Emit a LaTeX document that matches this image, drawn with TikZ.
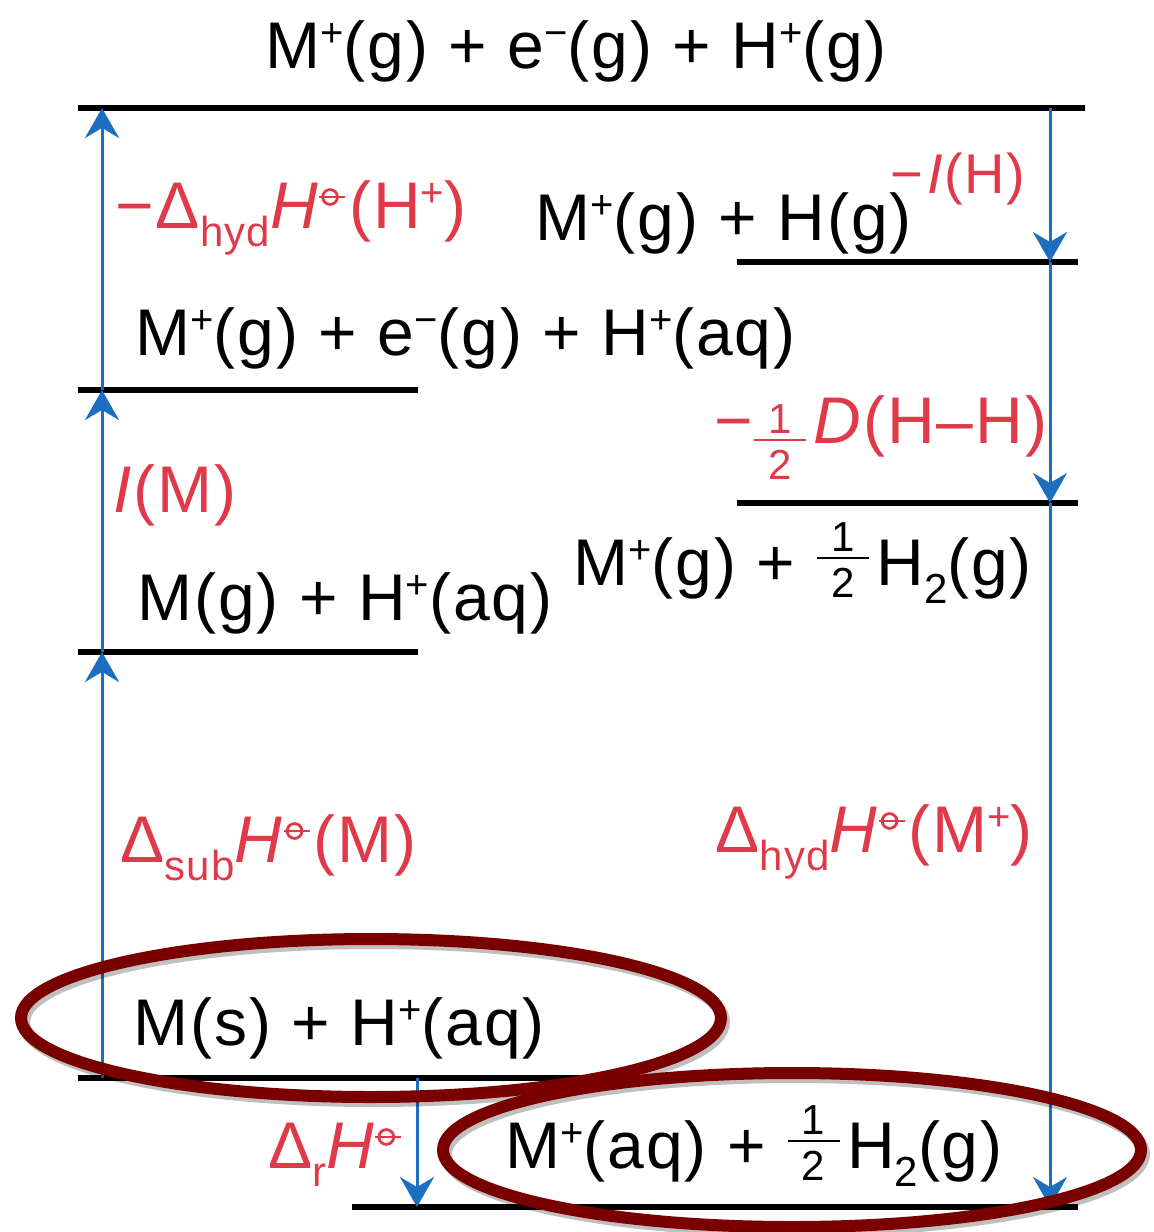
\documentclass[tikz,border=0pt]{standalone}
\usepackage{fontspec}
\setmainfont{Liberation Sans}[LetterSpace=3]
\usetikzlibrary{positioning,arrows.meta,calc}
\definecolor{lblred}{HTML}{E0394A}
\definecolor{arrblue}{HTML}{1C6EBF}
\definecolor{ovalred}{HTML}{7A0000}
\newcommand{\stdst}{\hspace{-1pt}\tikz[baseline=0pt,x=1pt,y=1pt]{\draw[line width=1.4pt] (5.5,15.5) circle (3.7); \draw[line width=1.1pt] (0,15.5) -- (13,15.5);}\hspace{1.5pt}}
\newcommand{\sbs}[1]{\raisebox{-0.28em}{\fontsize{21}{21}\selectfont #1}}
\newcommand{\sps}[1]{\raisebox{0.33em}{\fontsize{20}{20}\selectfont #1}}
\newcommand{\half}[1][13.5]{\tikz[baseline=0pt,x=1pt,y=1pt]{\draw[line width=1.4pt] (0,#1) -- (26,#1); \node[anchor=base,inner sep=0pt,font=\fontsize{21}{22}\selectfont] at (13,#1+3.5) {1}; \node[anchor=base,inner sep=0pt,font=\fontsize{21}{22}\selectfont] at (13,#1-19.5) {2};}\hspace{3pt}}

\begin{document}
\begin{tikzpicture}[x=0.5pt,y=-0.5pt,
    every node/.style={inner sep=0pt,anchor=base west,font=\fontsize{33}{40}\selectfont},
    lvl/.style={line width=3pt},
    enarrow/.style={arrblue,line width=1.5pt,-{Stealth[length=15pt,width=17pt,inset=5pt]}},
    lbl/.style={text=lblred},
    hilite/.style={ovalred,line width=6pt}]
  \useasboundingbox (0,0) rectangle (1153,1232);
  \coordinate (a0) at (102,1078);
  \coordinate (a1) at (102,652);
  \coordinate (a2) at (102,390);
  \coordinate (a3) at (102,108);
  \coordinate (b0) at (1050,108);
  \coordinate (b1) at (1050,262);
  \coordinate (b2) at (1050,503);
  \coordinate (b3) at (1050,1207);
  \coordinate (c0) at (417,1078);
  \coordinate (c1) at (417,1207);
  \draw[lvl] (78,108) -- (1085,108);
  \draw[lvl] (737,262) -- (1078,262);
  \draw[lvl] (78,390) -- (418,390);
  \draw[lvl] (737,503) -- (1078,503);
  \draw[lvl] (78,652) -- (418,652);
  \draw[lvl] (78,1078) -- (600,1078);
  \draw[lvl] (352,1207) -- (1078,1207);
  \node (eg)  at (265,68)   {M\sps{+}(g) + e\sps{−}(g) + H\sps{+}(g)};
  \node (hg)  at (535,240)  {M\sps{+}(g) + H(g)};
  \node (eaq) at (135,355)  {M\sps{+}(g) + e\sps{−}(g) + H\sps{+}(aq)};
  \node (mg)  at (137,620)  {M(g) + H\sps{+}(aq)};
  \node (h2)  at (573,585)  {M\sps{+}(g) + \half H\sbs{2}(g)};
  \node (ms)  at (133,1045) {M(s) + H\sps{+}(aq)};
  \node (maq) at (505,1168) {M\sps{+}(aq) + \half H\sbs{2}(g)};
  \node[lbl] (hydh) at (115,228)  {−Δ\sbs{hyd}\textit{H}\stdst(H\sps{+})};
  \node[lbl,font=\fontsize{28}{32}\selectfont] (ih) at (890,193) {−\hspace{2pt}\textit{I}(H)};
  \node[lbl] (im)   at (113,512)  {\textit{I}(M)};
  \node[lbl] (dhh)  at (714,443)  {−\half[1.5]\textit{D}(H–H)};
  \node[lbl] (sub)  at (120,862)  {Δ\sbs{sub}\textit{H}\stdst(M)};
  \node[lbl] (hydm) at (715,852)  {Δ\sbs{hyd}\textit{H}\stdst(M\sps{+})};
  \node[lbl] (rh)   at (268,1168) {Δ\sbs{r}\textit{H}\stdst};
  \draw[enarrow] (a0) -- (a1);
  \draw[enarrow] (a1) -- (a2);
  \draw[enarrow] (a2) -- (a3);
  \draw[enarrow] (b0) -- (b1);
  \draw[enarrow] (b1) -- (b2);
  \draw[enarrow] (b2) -- (b3);
  \draw[enarrow] (c0) -- (c1);
  \draw[hilite,black,opacity=0.25] (374,1022) ellipse (350 and 79);
  \draw[hilite,black,opacity=0.25] (795,1154) ellipse (349 and 77);
  \draw[hilite] (371,1018) ellipse (350 and 79);
  \draw[hilite] (792,1150) ellipse (349 and 77);
\end{tikzpicture}
\end{document}
